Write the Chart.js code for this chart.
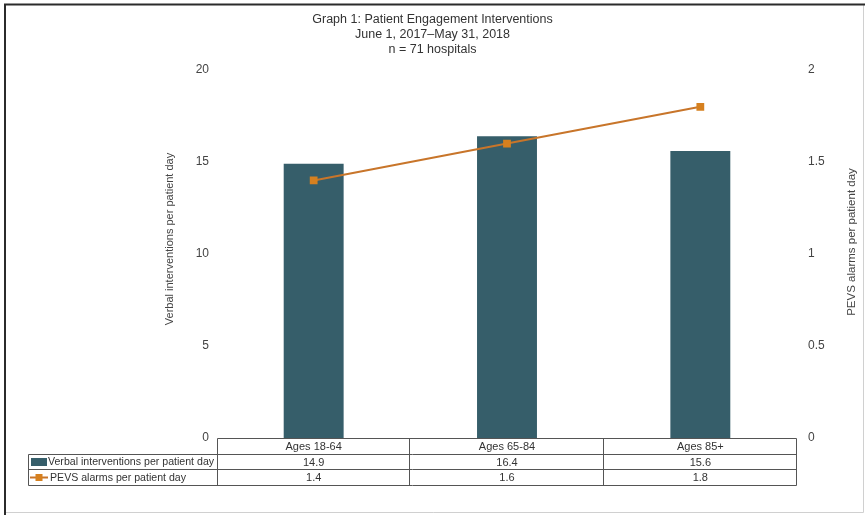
<!DOCTYPE html>
<html>
<head>
<meta charset="utf-8">
<script src="https://cdn.jsdelivr.net/npm/chart.js@4.4.0/dist/chart.umd.min.js"></script>
<style>
  html, body { margin: 0; padding: 0; background: #fff; }
  #wrap { width: 865px; height: 515px; position: relative; }
</style>
</head>
<body>
<div id="wrap"><canvas id="engagement"></canvas></div>
<script>
var categories = ["Ages 18-64", "Ages 65-84", "Ages 85+"];
var verbalValues = [14.9, 16.4, 15.6];
var pevsValues = [1.4, 1.6, 1.8];
var verbalLabel = "Verbal interventions per patient day";
var pevsLabel = "PEVS alarms per patient day";
var titleLines = ["Graph 1: Patient Engagement Interventions", "June 1, 2017\u2013May 31, 2018", "n = 71 hospitals"];

var barColor = '#365e6a';
var lineColor = '#c8752a';
var markerColor = '#d6801f';
var FONT = '"Liberation Sans", Arial, sans-serif';

// white background + outer frame
var framePlugin = {
  id: 'frame',
  beforeDraw: function (chart) {
    var ctx = chart.ctx;
    ctx.save();
    ctx.fillStyle = '#fff';
    ctx.fillRect(0, 0, chart.width, chart.height);
    ctx.strokeStyle = '#d0d0d0';
    ctx.lineWidth = 1;
    ctx.beginPath();
    ctx.moveTo(863.5, 4);
    ctx.lineTo(863.5, 512.5);
    ctx.lineTo(4, 512.5);
    ctx.stroke();
    ctx.strokeStyle = '#2b2b2b';
    ctx.lineWidth = 2;
    ctx.beginPath();
    ctx.moveTo(5, 515);
    ctx.lineTo(5, 4.5);
    ctx.lineTo(865, 4.5);
    ctx.stroke();
    ctx.restore();
  }
};

// data table under the plot + both axis titles (both read bottom to top)
var tablePlugin = {
  id: 'dataTable',
  afterDraw: function (chart) {
    var ctx = chart.ctx;
    var area = chart.chartArea;
    var xs = chart.scales.x;
    var half = (area.right - area.left) / categories.length / 2;
    var rows = [438.5, 454.5, 469.5, 485.5];
    var legLeft = 28.5;
    var L = Math.round(area.left) + 0.5;
    var R = Math.round(area.right) - 0.5;

    ctx.save();
    ctx.strokeStyle = '#555';
    ctx.lineWidth = 1;
    ctx.beginPath();
    ctx.moveTo(L, rows[0]); ctx.lineTo(R, rows[0]);
    ctx.moveTo(legLeft, rows[1]); ctx.lineTo(R, rows[1]);
    ctx.moveTo(legLeft, rows[2]); ctx.lineTo(R, rows[2]);
    ctx.moveTo(legLeft, rows[3]); ctx.lineTo(R, rows[3]);
    ctx.moveTo(legLeft, rows[1]); ctx.lineTo(legLeft, rows[3]);
    ctx.moveTo(L, rows[0]); ctx.lineTo(L, rows[3]);
    for (var i = 0; i < categories.length; i++) {
      var edge = Math.round(xs.getPixelForValue(i) + half) - 0.5;
      ctx.moveTo(edge, rows[0]); ctx.lineTo(edge, rows[3]);
    }
    ctx.stroke();

    ctx.fillStyle = '#333';
    ctx.font = '11px ' + FONT;
    ctx.textAlign = 'center';
    ctx.textBaseline = 'middle';
    for (var j = 0; j < categories.length; j++) {
      var cx = xs.getPixelForValue(j);
      ctx.fillText(categories[j], cx, (rows[0] + rows[1]) / 2 + 0.5);
      ctx.fillText(verbalValues[j].toFixed(1), cx, (rows[1] + rows[2]) / 2 + 0.5);
      ctx.fillText(pevsValues[j].toFixed(1), cx, (rows[2] + rows[3]) / 2 + 0.5);
    }

    // legend keys
    ctx.fillStyle = barColor;
    ctx.fillRect(31, 458, 16, 8);
    ctx.strokeStyle = lineColor;
    ctx.lineWidth = 2;
    ctx.beginPath();
    ctx.moveTo(30, 477.5); ctx.lineTo(48, 477.5);
    ctx.stroke();
    ctx.fillStyle = markerColor;
    ctx.fillRect(35.5, 474, 7, 7);

    ctx.fillStyle = '#333';
    ctx.textAlign = 'left';
    ctx.font = '10.6px ' + FONT;
    ctx.fillText(verbalLabel, 48, (rows[1] + rows[2]) / 2 + 0.5);
    ctx.fillText(pevsLabel, 50, (rows[2] + rows[3]) / 2 + 0.5);

    // axis titles
    ctx.fillStyle = '#444';
    ctx.textAlign = 'center';
    ctx.font = '11px ' + FONT;
    ctx.save();
    ctx.translate(170, 239);
    ctx.rotate(-Math.PI / 2);
    ctx.fillText(verbalLabel, 0, 0);
    ctx.restore();
    ctx.save();
    ctx.font = '11.5px ' + FONT;
    ctx.translate(852, 242);
    ctx.rotate(-Math.PI / 2);
    ctx.fillText(pevsLabel, 0, 0);
    ctx.restore();
    ctx.restore();
  }
};

new Chart(document.getElementById('engagement').getContext('2d'), {
  data: {
    labels: categories,
    datasets: [{
      type: 'line',
      label: pevsLabel,
      data: pevsValues,
      yAxisID: 'y1',
      borderColor: lineColor,
      borderWidth: 2,
      pointStyle: 'rect',
      pointRadius: 5.5,
      pointBackgroundColor: markerColor,
      pointBorderColor: markerColor,
      pointBorderWidth: 0,
      tension: 0,
      order: 0
    }, {
      type: 'bar',
      label: verbalLabel,
      data: verbalValues,
      yAxisID: 'y',
      backgroundColor: barColor,
      categoryPercentage: 1,
      barPercentage: 0.31,
      order: 1
    }]
  },
  options: {
    responsive: true,
    maintainAspectRatio: false,
    animation: false,
    layout: { padding: { left: 0, right: 0, top: 0, bottom: 77 } },
    plugins: {
      legend: { display: false },
      tooltip: { enabled: false },
      title: {
        display: true,
        text: titleLines,
        color: '#333',
        font: { family: FONT, size: 12.5, weight: 'normal', lineHeight: 1.2 },
        padding: { top: 12, bottom: 13 }
      }
    },
    scales: {
      x: {
        display: false,
        offset: true
      },
      y: {
        position: 'left',
        min: 0,
        max: 20,
        ticks: { stepSize: 5, padding: 8, color: '#444', font: { family: FONT, size: 12 } },
        grid: { display: false, drawTicks: false },
        border: { display: false },
        afterFit: function (scale) { scale.width = 217; }
      },
      y1: {
        position: 'right',
        min: 0,
        max: 2,
        ticks: {
          stepSize: 0.5, padding: 11, color: '#444', font: { family: FONT, size: 12 },
          callback: function (value) { return String(value); }
        },
        grid: { display: false, drawTicks: false },
        border: { display: false },
        afterFit: function (scale) { scale.width = 68; }
      }
    }
  },
  plugins: [framePlugin, tablePlugin]
});
</script>
</body>
</html>
